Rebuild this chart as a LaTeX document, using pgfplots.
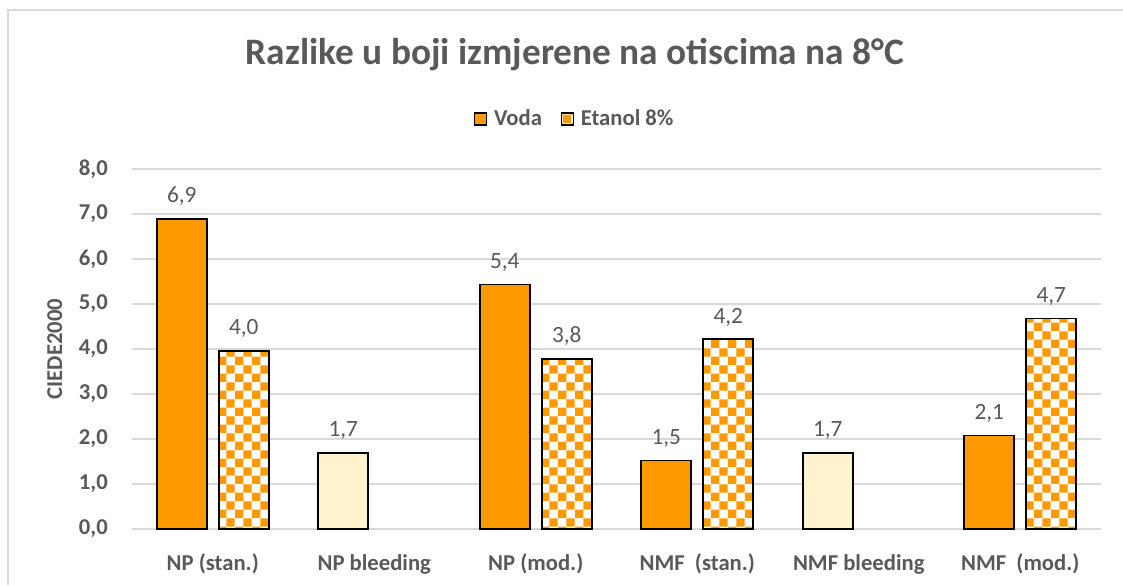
\documentclass[border=0pt]{standalone}
\usepackage{pgfplots}
\pgfplotsset{compat=1.18}
\usepackage{fontspec}
\setmainfont{Carlito}
\usetikzlibrary{patterns.meta}
\definecolor{vodaorange}{HTML}{FF9900}
\definecolor{bleed}{HTML}{FFF2CC}
\definecolor{txtgrey}{HTML}{595959}
\definecolor{gridgrey}{HTML}{D9D9D9}

\pgfdeclarepattern{
  name=bigcheck, type=uncolored,
  bottom left={\pgfpointorigin}, top right={\pgfpoint{12.6pt}{12.6pt}},
  tile size={\pgfpoint{12.6pt}{12.6pt}},
  code={\pgfpathrectangle{\pgfpointorigin}{\pgfpoint{6.3pt}{6.3pt}}
        \pgfpathrectangle{\pgfpoint{6.3pt}{6.3pt}}{\pgfpoint{6.3pt}{6.3pt}}
        \pgfusepath{fill}}
}

\begin{document}
\begin{tikzpicture}
\useasboundingbox (0,0) rectangle (842.25pt,438.75pt);
\draw[gridgrey, line width=1.2pt] (6pt,0) -- (6pt,431.25pt) -- (842.25pt,431.25pt);
\node[font=\bfseries\fontsize{28}{32}\selectfont, text=txtgrey] at (431.25pt,397.5pt) {Razlike u boji izmjerene na otiscima na 8°C};
\node[rotate=90, font=\bfseries\fontsize{17}{19}\selectfont, text=txtgrey] at (41pt,177pt) {CIEDE2000};
\begin{axis}[
  at={(99pt,42pt)}, anchor=south west,
  scale only axis, width=726.75pt, height=270pt,
  xmin=-0.5, xmax=5.5, ymin=0, ymax=8,
  ytick={0,1,...,8},
  xtick={0,1,2,3,4,5},
  xticklabels={NP (stan.), NP bleeding, NP (mod.), NMF\ \ (stan.), NMF bleeding, NMF\ \ (mod.)},
  major tick length=0pt,
  axis line style={draw=none},
  ymajorgrids, grid style={gridgrey, line width=1pt},
  /pgf/number format/.cd, fixed, fixed zerofill, precision=1, use comma, assume math mode=true,
  /pgfplots/.cd,
  yticklabel style={anchor=east, inner sep=0pt, xshift=-18pt, font=\bfseries\fontsize{17}{19}\selectfont, text=txtgrey},
  xticklabel style={anchor=base, inner sep=0pt, yshift=-30.75pt, font=\bfseries\fontsize{17}{19}\selectfont, text=txtgrey},
  ybar, bar width=37.5pt,
  nodes near coords={\pgfmathprintnumber[fixed,fixed zerofill,precision=1,use comma,assume math mode=true]{\pgfplotspointmeta}},
  nodes near coords style={anchor=base, inner sep=0pt, yshift=12pt, font=\fontsize{17.5}{19}\selectfont, text=txtgrey},
  legend style={at={(axis description cs:0.4572,1.139)}, anchor=center, draw=none, fill=none,
    legend columns=2, font=\bfseries\fontsize{17}{19}\selectfont, text=txtgrey,
    /tikz/every even column/.append style={column sep=12pt}},
  legend image code/.code={\draw[#1, draw=black, line width=1pt] (0pt,-4.5pt) rectangle (9pt,4.5pt); \path (12pt,0pt);},
]
\addplot[bar shift=-23.25pt, fill=vodaorange, draw=black, line width=1.2pt]
  coordinates {(0,6.89) (2,5.43) (3,1.52) (5,2.08)};
\addlegendentry{Voda}
\addplot[bar shift=23.25pt, fill=white, draw=black, line width=1.2pt,
  postaction={pattern=bigcheck, pattern color=vodaorange}]
  coordinates {(0,3.96) (2,3.78) (3,4.22) (5,4.68)};
\addlegendentry{Etanol 8\%}
\addplot[bar shift=-23.25pt, fill=bleed, draw=black, line width=1.2pt, forget plot]
  coordinates {(1,1.69) (4,1.69)};
\end{axis}
\end{tikzpicture}
\end{document}
